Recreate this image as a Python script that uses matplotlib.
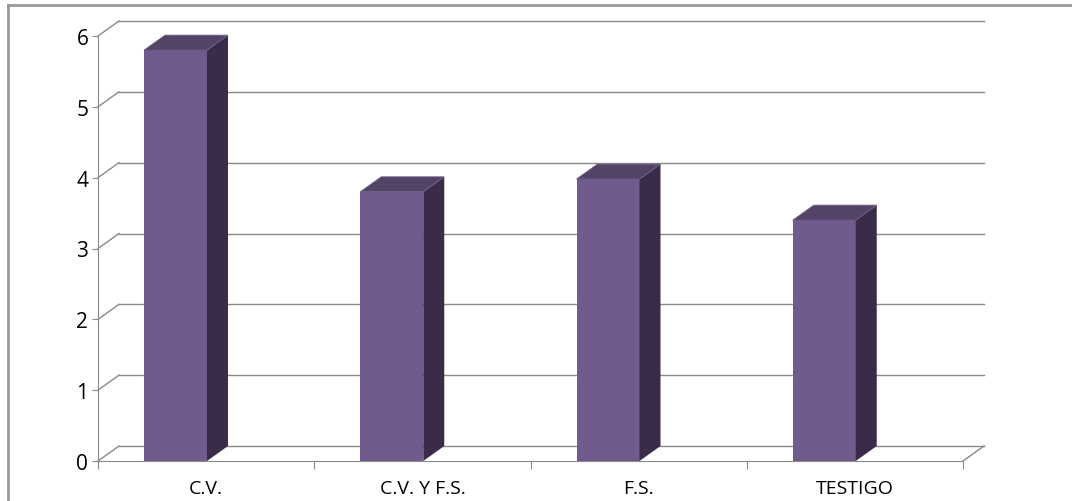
import matplotlib.pyplot as plt
from matplotlib.patches import Polygon, Rectangle
from matplotlib.lines import Line2D

# datos
categorias = ['C.V.', 'C.V. Y F.S.', 'F.S.', 'TESTIGO']
valores = [5.8, 3.8, 3.98, 3.4]
ticks_y = [0, 1, 2, 3, 4, 5, 6]

# colores estilo Excel 3D
c_frente = '#715A8D'
c_lado = '#3A2C49'
c_tapa = '#534467'
c_grid = '#8A8A8A'

W, H = 1072, 502
plt.rcParams['font.family'] = ['Open Sans', 'DejaVu Sans']

fig = plt.figure(figsize=(W / 100, H / 100), dpi=100)
# area del plano frontal en pixeles: x 98..963, y 37..462
ax = fig.add_axes([98 / W, 40 / H, 865 / W, 425 / H])
ax.set_xlim(0, len(categorias))
ax.set_ylim(0, 6)

# profundidad del efecto 3D (en unidades de datos)
px_x = 865 / len(categorias)
px_y = 425 / 6
dx = 21 / px_x
dy = 15 / px_y

# --- paredes y lineas de cuadricula ---
for t in ticks_y:
    ax.plot([dx, len(categorias) + dx], [t + dy, t + dy], color=c_grid, lw=1, zorder=1, clip_on=False)
    ax.plot([0, dx], [t, t + dy], color=c_grid, lw=1, zorder=1, clip_on=False)
# borde derecho del suelo
ax.plot([len(categorias), len(categorias) + dx], [0, dy], color=c_grid, lw=1, zorder=1, clip_on=False)

# --- barras 3D ---
off = 46 / px_x
bw = 63 / px_x
for i, v in enumerate(valores):
    x0 = i + off
    x1 = x0 + bw
    ax.add_patch(Rectangle((x0, 0), bw, v, facecolor=c_frente, edgecolor='none', zorder=3, clip_on=False))
    ax.add_patch(Polygon([(x1, 0), (x1 + dx, dy), (x1 + dx, v + dy), (x1, v)],
                         closed=True, facecolor=c_lado, edgecolor='none', zorder=3, clip_on=False))
    ax.add_patch(Polygon([(x0, v), (x0 + dx, v + dy), (x1 + dx, v + dy), (x1, v)],
                         closed=True, facecolor=c_tapa, edgecolor='#6E5D86', lw=0.6, zorder=4, clip_on=False))

# --- ejes ---
for s in ['top', 'right']:
    ax.spines[s].set_visible(False)
ax.spines['left'].set_color(c_grid)
ax.spines['bottom'].set_color(c_grid)
ax.spines['left'].set_zorder(2)
ax.spines['bottom'].set_zorder(2)

ax.set_yticks(ticks_y)
ax.set_yticklabels([str(t) for t in ticks_y], fontsize=15)
ax.tick_params(axis='y', length=4, color=c_grid, pad=3)

ax.set_xticks(range(len(categorias) + 1))
ax.set_xticklabels([])
ax.tick_params(axis='x', which='major', length=6, color=c_grid)
ax.set_xticks([i + 0.5 for i in range(len(categorias))], minor=True)
ax.set_xticklabels(categorias, minor=True, fontsize=14)
ax.tick_params(axis='x', which='minor', length=0, pad=13)

ax.set_facecolor('none')

# marco exterior del grafico (solo se ven borde superior e izquierdo)
fig.add_artist(Line2D([8 / W, 1], [1 - 6 / H, 1 - 6 / H], color='#9A9A9A', lw=2, transform=fig.transFigure))
fig.add_artist(Line2D([8 / W, 8 / W], [0, 1 - 6 / H], color='#9A9A9A', lw=2, transform=fig.transFigure))

fig.savefig('out.png', dpi=100)
